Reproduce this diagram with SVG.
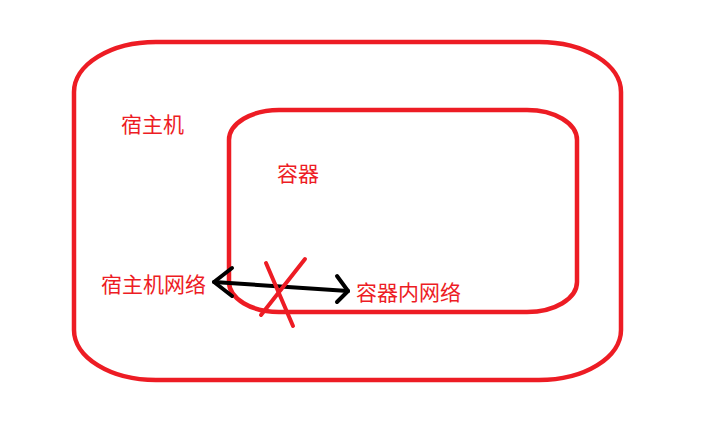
<svg xmlns="http://www.w3.org/2000/svg" width="728" height="440" viewBox="0 0 728 440">
<style>
.box{fill:none;stroke:#ed1c24;stroke-width:4.5}
.lbl{fill:#ed1c24;font-family:"Microsoft YaHei","Noto Sans CJK SC",sans-serif;font-size:21px}
.arr{fill:none;stroke:#000;stroke-width:4;stroke-linecap:round;stroke-linejoin:round}
.x{stroke:#ed1c24;stroke-width:4;stroke-linecap:round}
</style>
<rect width="728" height="440" fill="#fff"/>
<g id="host">
<rect class="box" x="74" y="42" width="547" height="338" rx="82" ry="50"/>
<text class="lbl" x="121" y="132">宿主机</text>
</g>
<g id="container">
<rect class="box" x="229" y="110" width="348" height="202" rx="50" ry="30"/>
<text class="lbl" x="277" y="181">容器</text>
</g>
<g id="host-net">
<text class="lbl" x="101" y="292">宿主机网络</text>
</g>
<g id="container-net">
<text class="lbl" x="356" y="300">容器内网络</text>
</g>
<g id="connectors">
<path class="arr" d="M214,282 L348,291"/>
<path class="arr" d="M232,268 L214,282 L232,296"/>
<path class="arr" d="M337,276 L348,291 L337,302"/>
<line class="x" x1="266" y1="263" x2="293" y2="326"/>
<line class="x" x1="305" y1="259" x2="261" y2="315"/>
</g>
</svg>
